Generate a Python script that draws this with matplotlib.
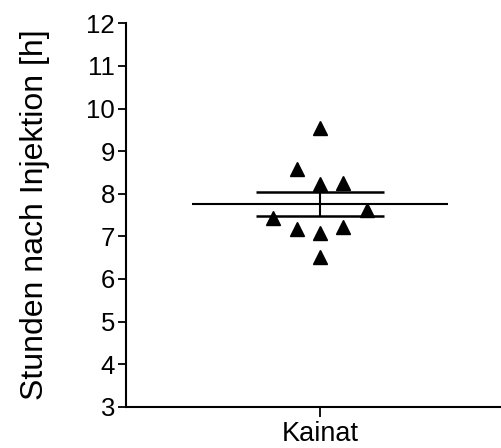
import numpy as np
import matplotlib
matplotlib.use('Agg')
import matplotlib.pyplot as plt

plt.rcParams['font.family'] = ['Liberation Sans', 'DejaVu Sans']

# hours after injection, one group
group = 'Kainat'
hours = [9.54, 8.58, 8.22, 8.24, 7.62, 7.42, 7.16, 7.08, 7.23, 6.51]
# horizontal scatter slot of each point (in steps)
slots = [0, -1, 0, 1, 2, -2, -1, 0, 1, 0]

mean = np.mean(hours)
sem = np.std(hours, ddof=1) / np.sqrt(len(hours))

fig = plt.figure(figsize=(5.02, 4.48), dpi=100)
ax = fig.add_axes([126/502, 41.3/448, 1 - 126/502, (406.7 - 23.3)/448])

step = 0.12
xs = [s * step for s in slots]
ax.plot(xs, hours, linestyle='none', marker='^', markersize=10, color='black')

# mean line and SEM bars
ax.hlines(mean, -0.66, 0.66, color='black', lw=1.5)
ax.hlines([mean - sem, mean + sem], -0.33, 0.33, color='black', lw=1.8)
ax.vlines(0, mean - sem, mean + sem, color='black', lw=1.5)

ax.set_xlim(-1, (502 - 320) / 194)
ax.set_ylim(3, 12)
ax.set_yticks(range(3, 13))
ax.set_xticks([0])
ax.set_xticklabels([group])

for side in ['top', 'right']:
    ax.spines[side].set_visible(False)
for side in ['left', 'bottom']:
    ax.spines[side].set_linewidth(1.5)

ax.tick_params(axis='y', direction='out', length=6, width=1.3, labelsize=18.5, pad=2)
ax.tick_params(axis='x', direction='out', length=7, width=1.3, labelsize=19.5, pad=3)
ax.set_ylabel('Stunden nach Injektion [h]', fontsize=23, labelpad=26)

fig.savefig('out.png', dpi=100)
